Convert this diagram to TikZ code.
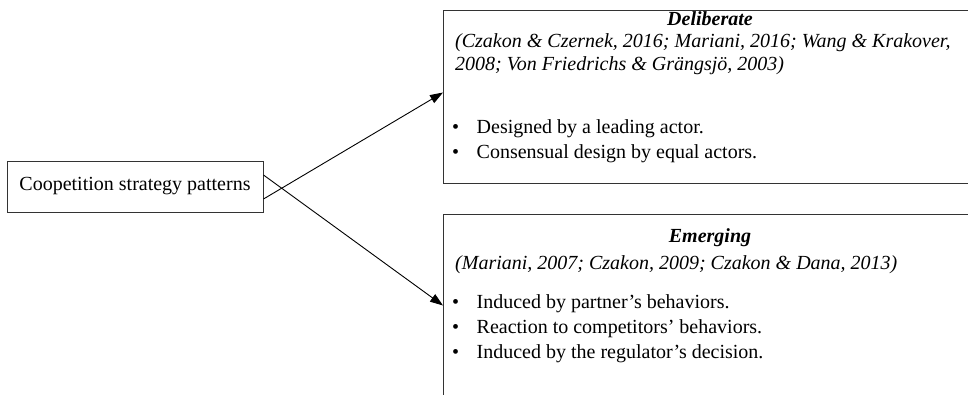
\documentclass[tikz,border=0pt]{standalone}
\usepackage{fontspec}
\setmainfont{Liberation Serif}
\usetikzlibrary{arrows.meta}
\begin{document}
\begin{tikzpicture}[x=1pt,y=-1pt,
  box/.style={draw=black!80, line width=1pt, rectangle, inner sep=0pt},
  txt/.style={inner sep=0pt, font=\fontsize{20}{25}\selectfont},
  line/.style={line width=0.9pt, -{Triangle[length=13pt,width=9pt]}}]
\clip (0,0) rectangle (968,394);
\fill[white] (0,0) rectangle (968,394);
% left box
\node[box, minimum width=256pt, minimum height=51pt, txt] (lb) at (135,186.5) {Coopetition strategy patterns};
% top box
\node[box, anchor=north west, minimum width=540pt, minimum height=173pt] (delib) at (443,10) {};
\node[txt, anchor=center, font=\fontsize{20}{25}\selectfont\bfseries\itshape] (dt) at (710,19) {Deliberate};
\node[txt, anchor=north west, align=left, font=\fontsize{20}{23}\selectfont\itshape] (dc) at (455,33) {(Czakon \& Czernek, 2016; Mariani, 2016; Wang \& Krakover,\\2008; Von Friedrichs \& Grängsjö, 2003)};
\node[txt, anchor=north west, align=left] (db) at (452,119) {\makebox[24.5pt][l]{\textbullet}Designed by a leading actor.\\\makebox[24.5pt][l]{\textbullet}Consensual design by equal actors.};
% bottom box
\node[box, anchor=north west, minimum width=540pt, minimum height=186pt] (emerg) at (443,214) {};
\node[txt, anchor=center, font=\fontsize{20}{25}\selectfont\bfseries\itshape] (et) at (710,238) {Emerging};
\node[txt, anchor=north west, align=left, font=\fontsize{20}{23}\selectfont\itshape] (ec) at (455,255) {(Mariani, 2007; Czakon, 2009; Czakon \& Dana, 2013)};
\node[txt, anchor=north west, align=left] (eb) at (452,294) {\makebox[24.5pt][l]{\textbullet}Induced by partner’s behaviors.\\\makebox[24.5pt][l]{\textbullet}Reaction to competitors’ behaviors.\\\makebox[24.5pt][l]{\textbullet}Induced by the regulator’s decision.};
% arrows
\draw[line] ([yshift=11.5pt]lb.east) -- ([yshift=2pt]emerg.west);
\draw[line] ([yshift=-12.5pt]lb.east) -- ([yshift=4.5pt]delib.west);
\end{tikzpicture}
\end{document}
